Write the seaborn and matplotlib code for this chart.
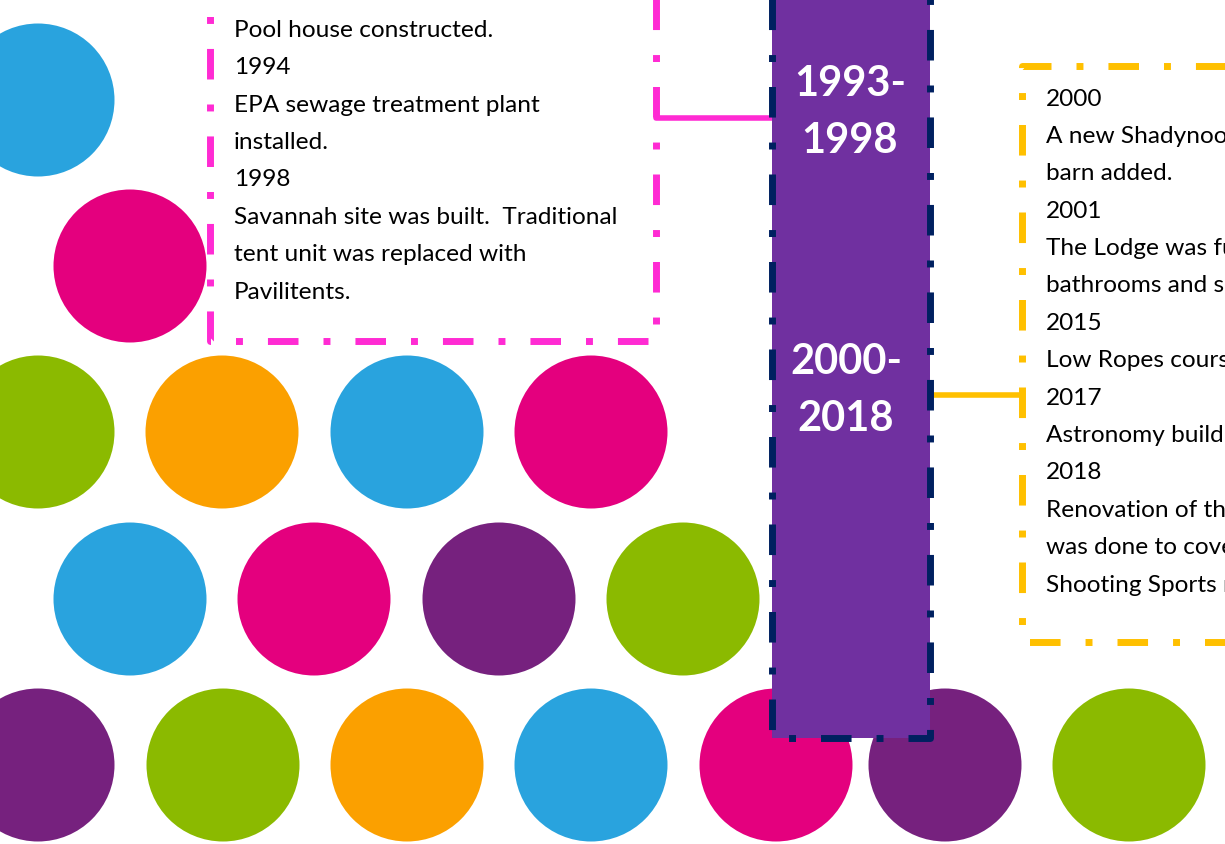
import matplotlib
matplotlib.use('Agg')
import matplotlib.pyplot as plt
import seaborn as sns
import pandas as pd

# background dots: colour name per dot
dot_color = ['blue', 'magenta',
             'green', 'orange', 'blue', 'magenta',
             'blue', 'magenta', 'purple', 'green',
             'purple', 'green', 'orange', 'blue', 'magenta', 'purple', 'green']
dot_x = [38, 130,
         38, 222, 407, 591,
         130, 314, 499, 683,
         38, 223, 407, 591, 776, 945, 1129]
dot_y = [101, 267,
         433, 433, 433, 433,
         600, 600, 600, 600,
         766, 766, 766, 766, 766, 766, 766]

# timeline periods
period_top = ['1993-', '2000-']
period_bottom = ['1998', '2018']

# event texts, one entry per line
left_lines = ['1993', 'Pool house constructed.', '1994', 'EPA sewage treatment plant',
              'installed.', '1998', 'Savannah site was built.  Traditional',
              'tent unit was replaced with', 'Pavilitents.']
right_lines = ['2000', 'A new Shadynook horse', 'barn added.', '2001',
               'The Lodge was fully renovated with', 'bathrooms and showers.', '2015',
               'Low Ropes course built.', '2017', 'Astronomy building built.', '2018',
               'Renovation of the old lodge', 'was done to cover the', 'Shooting Sports range.']

palette = {'blue': '#29A3DE', 'magenta': '#E4007E', 'green': '#8BBA00',
           'orange': '#FBA000', 'purple': '#76217E'}
PINK = '#FF2BD3'
GOLD = '#FFC000'
NAVY = '#002060'
BAR = '#7030A0'
DASH = (0, (4.4, 3.6, 1, 3.6))

sns.set_theme(style='white')
plt.rcParams['font.family'] = ['Lato', 'DejaVu Sans']

fig = plt.figure(figsize=(12.25, 8.45), dpi=100)
ax = fig.add_axes([0, 0, 1, 1])
ax.set_xlim(0, 1225)
ax.set_ylim(845, 0)
ax.axis('off')

dots = pd.DataFrame({'x': dot_x, 'y': dot_y, 'c': dot_color})
sns.scatterplot(data=dots, x='x', y='y', hue='c', palette=palette, s=(153 * 0.72) ** 2,
                linewidth=0, legend=False, ax=ax, zorder=1)

# left box (magenta dash-dot)
ax.plot([656, 656, 210, 210], [-20, 342, 342, -20], color=PINK, lw=5, ls=DASH,
        dash_capstyle='butt', zorder=2)
ax.plot([656, 772], [119, 119], color=PINK, lw=4, zorder=2)

# right box (gold dash-dot)
ax.plot([1240, 1022, 1022, 1240], [67, 67, 643, 643], color=GOLD, lw=5, ls=DASH,
        dash_capstyle='butt', zorder=2)
ax.plot([930, 1022], [396, 396], color=GOLD, lw=4, zorder=2)

# timeline bar
ax.fill_between([772, 930], -10, 739, color=BAR, lw=0, zorder=3)
ax.plot([772, 772, 930, 930], [-10, 739, 739, -10], color=NAVY, lw=5, ls=DASH,
        dash_capstyle='butt', zorder=4)

for i, (a, b) in enumerate(zip(period_top, period_bottom)):
    cx = 850 if i == 0 else 846
    cy = 84 if i == 0 else 362
    ax.text(cx, cy, a, color='white', fontsize=30, fontweight='bold',
            ha='center', va='center', zorder=5)
    ax.text(cx, cy + 57, b, color='white', fontsize=30, fontweight='bold',
            ha='center', va='center', zorder=5)

for i, line in enumerate(left_lines):
    ax.text(234, -7 + 37.4 * i, line, fontsize=17.6, color='black', va='center', ha='left', zorder=5)

for i, line in enumerate(right_lines):
    ax.text(1046, 99 + 37.4 * i, line, fontsize=17.6, color='black', va='center', ha='left',
            zorder=5, clip_on=True)

fig.savefig('out.png', dpi=100)
